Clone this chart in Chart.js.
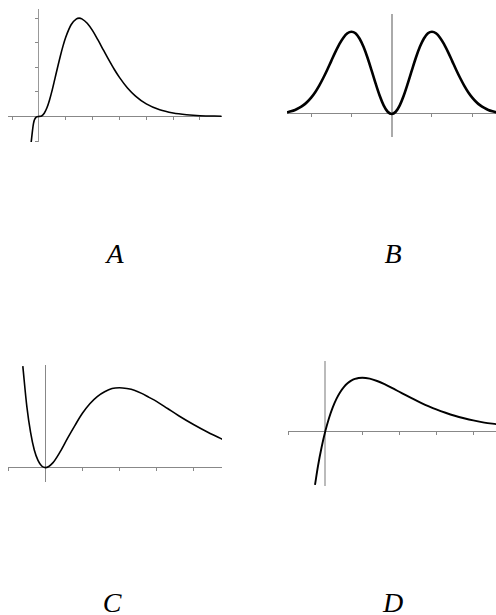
<!DOCTYPE html>
<html>
<head>
<meta charset="utf-8">
<script src="https://cdn.jsdelivr.net/npm/chart.js@4.4.1/dist/chart.umd.min.js"></script>
<style>
  body { margin: 0; background: #fff; width: 496px; height: 615px; position: relative; overflow: hidden; }
  canvas { position: absolute; }
  .lbl { position: absolute; font-family: "Liberation Serif", serif; font-style: italic; font-size: 28px; color: #000; width: 60px; text-align: center; line-height: 28px; }
</style>
</head>
<body>
<canvas id="chartA" width="214" height="133" style="left:8px;top:9px"></canvas>
<canvas id="chartB" width="209" height="123" style="left:287px;top:14px"></canvas>
<canvas id="chartC" width="214" height="117" style="left:8px;top:365px"></canvas>
<canvas id="chartD" width="208" height="125" style="left:288px;top:361px"></canvas>
<div class="lbl" style="left:85px;top:240px">A</div>
<div class="lbl" style="left:363px;top:240px">B</div>
<div class="lbl" style="left:82px;top:589px">C</div>
<div class="lbl" style="left:363px;top:589px">D</div>
<script>
// curve A
const xA = [-0.3, -0.2, -0.1, 0, 0.1, 0.2, 0.3, 0.4, 0.5, 0.6, 0.7, 0.8, 0.9, 1.0, 1.2, 1.4, 1.5, 1.6, 1.8, 2.0, 2.2, 2.4, 2.6, 2.8, 3.0, 3.3, 3.6, 4.0, 4.5, 5.0, 5.5, 6.0, 6.8];
const yA = [-1.17, -0.28, -0.03, 0, 0.02, 0.13, 0.35, 0.68, 1.09, 1.55, 2.01, 2.46, 2.87, 3.22, 3.73, 3.97, 4.0, 3.97, 3.79, 3.49, 3.11, 2.71, 2.31, 1.93, 1.59, 1.16, 0.83, 0.51, 0.27, 0.14, 0.07, 0.03, 0.01];
const ticksAx = [-1, 0, 1, 2, 3, 4, 5, 6];
const ticksAy = [-1, 0, 1, 2, 3, 4];

// curve B
const xB = [-2.6, -2.5, -2.4, -2.3, -2.2, -2.1, -2.0, -1.9, -1.8, -1.7, -1.6, -1.5, -1.4, -1.3, -1.2, -1.1, -1.0, -0.9, -0.8, -0.7, -0.6, -0.5, -0.4, -0.3, -0.2, -0.1, 0,
            0.1, 0.2, 0.3, 0.4, 0.5, 0.6, 0.7, 0.8, 0.9, 1.0, 1.1, 1.2, 1.3, 1.4, 1.5, 1.6, 1.7, 1.8, 1.9, 2.0, 2.1, 2.2, 2.3, 2.4, 2.5, 2.6];
const yB = [0.021, 0.033, 0.049, 0.073, 0.104, 0.146, 0.199, 0.265, 0.345, 0.437, 0.538, 0.645, 0.751, 0.848, 0.927, 0.981, 1.0, 0.980, 0.917, 0.816, 0.683, 0.529, 0.371, 0.224, 0.105, 0.027, 0,
            0.027, 0.105, 0.224, 0.371, 0.529, 0.683, 0.816, 0.917, 0.980, 1.0, 0.981, 0.927, 0.848, 0.751, 0.645, 0.538, 0.437, 0.345, 0.265, 0.199, 0.146, 0.104, 0.073, 0.049, 0.033, 0.021];
const ticksBx = [-2, -1, 0, 1, 2];

// curve C
const xC = [-0.61, -0.5, -0.4, -0.3, -0.2, -0.1, 0, 0.2, 0.4, 0.6, 0.8, 1.0, 1.2, 1.4, 1.6, 1.8, 2.0, 2.2, 2.4, 2.6, 2.8, 3.0, 3.3, 3.6, 4.0, 4.4, 4.8];
const yC = [1.27, 0.76, 0.44, 0.22, 0.09, 0.02, 0, 0.06, 0.20, 0.37, 0.53, 0.68, 0.80, 0.89, 0.95, 0.99, 1.0, 0.99, 0.97, 0.93, 0.88, 0.83, 0.74, 0.65, 0.54, 0.44, 0.35];
const ticksCx = [-1, 0, 1, 2, 3, 4];

// curve D
const xD = [-0.28, -0.2, -0.1, 0, 0.1, 0.2, 0.3, 0.4, 0.5, 0.6, 0.7, 0.8, 0.9, 1.0, 1.2, 1.4, 1.6, 1.8, 2.0, 2.2, 2.4, 2.6, 2.8, 3.0, 3.25, 3.5, 3.75, 4.0, 4.3, 4.62];
const yD = [-1.01, -0.66, -0.30, 0, 0.246, 0.445, 0.604, 0.729, 0.824, 0.895, 0.945, 0.977, 0.995, 1.0, 0.982, 0.938, 0.878, 0.809, 0.736, 0.663, 0.592, 0.525, 0.463, 0.406, 0.343, 0.287, 0.240, 0.199, 0.159, 0.13];
const ticksDx = [-1, 0, 1, 2, 3, 4];

function dibujar(id, xs, ys, xMin, xMax, yMin, yMax, xTicks, yTicks, grosor, colorEjeY, anchoEjeY) {
    const puntos = xs.map((x, i) => ({ x: x, y: ys[i] }));
    return new Chart(document.getElementById(id), {
        type: 'line',
        data: {
            datasets: [{
                data: puntos,
                borderColor: '#000',
                borderWidth: grosor,
                pointRadius: 0,
                cubicInterpolationMode: 'monotone',
                fill: false
            }]
        },
        options: {
            responsive: false,
            animation: false,
            events: [],
            layout: { padding: 0 },
            plugins: { legend: { display: false }, tooltip: { enabled: false } },
            scales: {
                x: {
                    type: 'linear',
                    min: xMin,
                    max: xMax,
                    position: { y: 0 },
                    afterBuildTicks: s => { s.ticks = xTicks.map(v => ({ value: v })); },
                    ticks: { display: false },
                    grid: { drawOnChartArea: false, drawTicks: true, tickLength: 3, color: '#888' },
                    border: { color: '#888', width: 1 }
                },
                y: {
                    type: 'linear',
                    min: yMin,
                    max: yMax,
                    position: { x: 0 },
                    afterBuildTicks: s => { s.ticks = yTicks.map(v => ({ value: v })); },
                    ticks: { display: false },
                    grid: { drawOnChartArea: false, drawTicks: yTicks.length > 0, tickLength: 3, color: '#888' },
                    border: { color: colorEjeY, width: anchoEjeY }
                }
            }
        }
    });
}

dibujar('chartA', xA, yA, -1.15, 6.82, -1.04, 4.37, ticksAx, ticksAy, 1.6, '#999', 1);
dibujar('chartB', xB, yB, -2.6, 2.59, -0.28, 1.215, ticksBx, [], 2.6, '#aaa', 2);
dibujar('chartC', xC, yC, -1.01, 4.77, -0.18, 1.285, ticksCx, [], 1.6, '#888', 1);
dibujar('chartD', xD, yD, -1.01, 4.615, -1.03, 1.313, ticksDx, [], 1.9, '#bbb', 2);
</script>
</body>
</html>
